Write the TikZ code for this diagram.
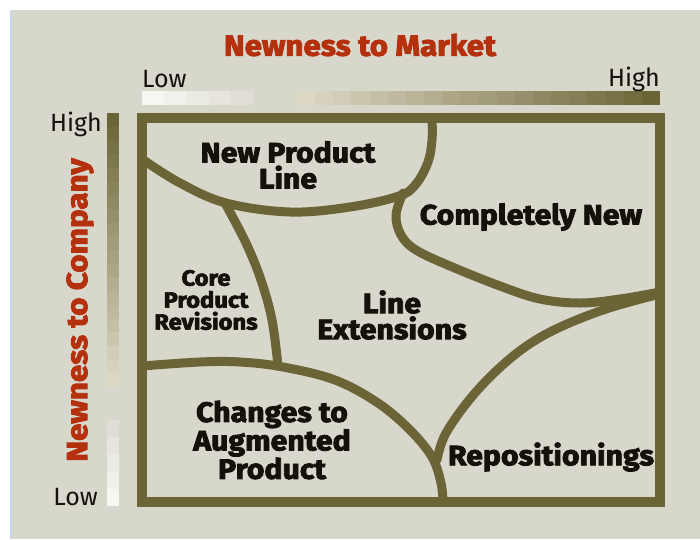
\documentclass[tikz,border=0pt]{standalone}
\usepackage{fontspec}
\setmainfont{Fira Sans}
\newfontfamily\labfont{Fira Sans}[FakeStretch=1.08, BoldFeatures={FakeBold=3}]
\definecolor{panel}{HTML}{D8D7CC}
\definecolor{boxolive}{HTML}{6B6436}
\definecolor{titlered}{HTML}{B5300C}
\definecolor{ink}{HTML}{15110A}
\definecolor{gradlight}{HTML}{DCD8C4}
\definecolor{whitea}{HTML}{F7F7F2}
\definecolor{whiteb}{HTML}{E0DED4}
\definecolor{edgeblue}{HTML}{C9D6E3}
\begin{document}
\begin{tikzpicture}[x=1pt,y=-1pt,
  lab/.style={text=ink, align=center, inner sep=0pt, font=\labfont\bfseries\fontsize{28}{26}\selectfont},
  smalllab/.style={text=ink, align=center, inner sep=0pt, font=\labfont\bfseries\fontsize{22}{22}\selectfont},
  axistitle/.style={text=titlered, inner sep=0pt, font=\labfont\bfseries\fontsize{29}{32}\selectfont},
  scalelab/.style={text=ink, inner sep=0pt, font=\fontsize{25}{28}\selectfont},
  region/.style={draw=boxolive, line width=9pt, line cap=round, line join=round},
  frame/.style={draw=boxolive, line width=10pt}]
\useasboundingbox (0,0) rectangle (700,539);
\fill[white] (0,0) rectangle (700,539);
\fill[panel] (10,10) rectangle (700,539);
\draw[edgeblue, line width=1.5pt] (10.75,10) -- (10.75,539);

% top scale
\foreach \i in {0,...,4}{
  \pgfmathtruncatemacro\p{\i*25}
  \fill[whiteb!\p!whitea] ({142+\i*22.2},91) rectangle ({142+(\i+1)*22.2},105);
}
\foreach \i in {0,...,19}{
  \pgfmathtruncatemacro\p{\i*100/19}
  \fill[boxolive!\p!gradlight] ({297+\i*18.15},91) rectangle ({297+(\i+1)*18.15+0.3},105);
}
% left scale
\foreach \i in {0,...,19}{
  \pgfmathtruncatemacro\p{100-\i*100/19}
  \fill[boxolive!\p!gradlight] (107,{113+\i*13.7}) rectangle (119,{113+(\i+1)*13.7+0.3});
}
\foreach \i in {0,...,4}{
  \pgfmathtruncatemacro\p{\i*25}
  \fill[whitea!\p!whiteb] (107,{420+\i*17.2}) rectangle (119,{420+(\i+1)*17.2});
}

% region boundaries
\draw[region] plot[smooth, tension=0.6] coordinates {(142,159) (180,183) (226,203) (290,212) (350,207) (399,196) (416,184) (428,162) (432,140) (432,118)};
\draw[region] plot[smooth, tension=0.6] coordinates {(403,193) (396,215) (401,235) (416,250) (450,266) (500,286) (540,299) (580,303) (620,299) (660,292)};
\draw[region] plot[smooth, tension=0.6] coordinates {(225,203) (246,243) (261,280) (272,320) (278,366)};
\draw[region] plot[smooth, tension=0.6] coordinates {(142,366) (200,362) (240,362) (283,367) (335,380) (378,403) (410,430) (432,457) (441,483) (443,502)};
\draw[region] plot[smooth, tension=0.6] coordinates {(437,460) (446,433) (475,393) (512,357) (550,332) (603,310) (660,294)};
\draw[frame] (142,118) rectangle (660,502);

% labels
\node[axistitle] (title) at (360,45) {Newness to Market};
\node[axistitle, rotate=90] (vtitle) at (80,310) {Newness to Company};
\node[scalelab, anchor=base west] (mlow) at (142,87) {Low};
\node[scalelab, anchor=base east] (mhigh) at (660,86) {High};
\node[scalelab, anchor=base east] (chigh) at (102,131) {High};
\node[scalelab, anchor=base east] (clow) at (98,505) {Low};

\node[lab] (npl) at (288,165) {New Product\\Line};
\node[lab] (cn) at (531,217) {Completely New};
\node[smalllab] (cpr) at (206,300) {Core\\Product\\Revisions};
\node[lab] (le) at (392,315) {Line\\Extensions};
\node[lab] (cap) at (272,440) {Changes to\\Augmented\\Product};
\node[lab] (rep) at (551,457) {Repositionings};
\end{tikzpicture}
\end{document}
